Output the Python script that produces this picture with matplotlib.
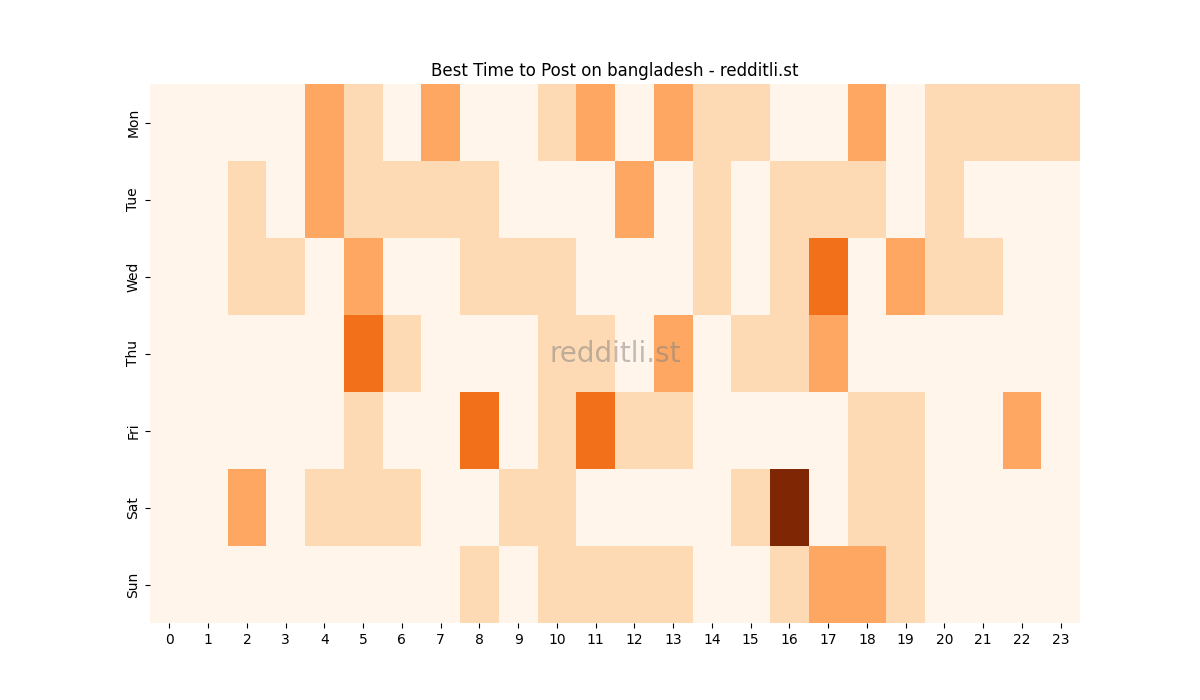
import matplotlib
matplotlib.use("Agg")
import matplotlib.pyplot as plt
import numpy as np
import seaborn as sns

days = ["Mon", "Tue", "Wed", "Thu", "Fri", "Sat", "Sun"]
hours = list(range(24))

# post counts per hour
mon = [0, 0, 0, 0, 2, 1, 0, 2, 0, 0, 1, 2, 0, 2, 1, 1, 0, 0, 2, 0, 1, 1, 1, 1]
tue = [0, 0, 1, 0, 2, 1, 1, 1, 1, 0, 0, 0, 2, 0, 1, 0, 1, 1, 1, 0, 1, 0, 0, 0]
wed = [0, 0, 1, 1, 0, 2, 0, 0, 1, 1, 1, 0, 0, 0, 1, 0, 1, 3, 0, 2, 1, 1, 0, 0]
thu = [0, 0, 0, 0, 0, 3, 1, 0, 0, 0, 1, 1, 0, 2, 0, 1, 1, 2, 0, 0, 0, 0, 0, 0]
fri = [0, 0, 0, 0, 0, 1, 0, 0, 3, 0, 1, 3, 1, 1, 0, 0, 0, 0, 1, 1, 0, 0, 2, 0]
sat = [0, 0, 2, 0, 1, 1, 1, 0, 0, 1, 1, 0, 0, 0, 0, 1, 5, 0, 1, 1, 0, 0, 0, 0]
sun = [0, 0, 0, 0, 0, 0, 0, 0, 1, 0, 1, 1, 1, 1, 0, 0, 1, 2, 2, 1, 0, 0, 0, 0]

data = np.array([mon, tue, wed, thu, fri, sat, sun])

fig, ax = plt.subplots(figsize=(12, 7), dpi=100)
sns.heatmap(data, cmap="Oranges", cbar=False, xticklabels=hours,
            yticklabels=days, ax=ax)
ax.set_yticklabels(days, rotation=90, va="center")
ax.set_xticklabels(hours, rotation=0)
ax.set_title("Best Time to Post on bangladesh - redditli.st")

# watermark
ax.text(0.5, 0.5, "redditli.st", transform=ax.transAxes, fontsize=20,
        color="grey", alpha=0.5, ha="center", va="center")

plt.savefig("out.png")
